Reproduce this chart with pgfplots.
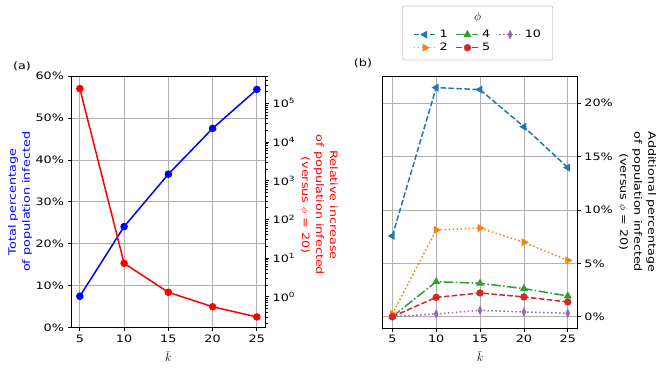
\documentclass[border=0pt]{standalone}
\usepackage{pgfplots}
\pgfplotsset{compat=1.18}
\usepackage{fontspec}
\setmainfont{DejaVu Sans}[FakeStretch=1.25]

\definecolor{c0}{HTML}{1F77B4}
\definecolor{c1}{HTML}{FF7F0E}
\definecolor{c2}{HTML}{2CA02C}
\definecolor{c3}{HTML}{D62728}
\definecolor{c4}{HTML}{9467BD}
\definecolor{gridgray}{HTML}{B0B0B0}
\definecolor{legframe}{HTML}{CCCCCC}

\pgfplotsset{
  base/.style={scale only axis, anchor=south west, width=194.7pt, height=251.7pt,
    tick align=outside, major tick length=3.5pt, minor tick length=2pt,
    tick style={black, line width=0.8pt}, axis line style={line width=0.8pt},
    tick label style={font=\fontsize{10.2}{12}\selectfont},
    label style={font=\fontsize{10.2}{14}\selectfont, align=center},
    /pgf/number format/assume math mode=true,
    grid style={gridgray, line width=0.8pt},
    xtick={5,10,15,20,25}, xmin=4, xmax=26,
  },
  klabel/.style={xlabel={$\bar{k}$},
    xlabel style={at={(axis description cs:0.5,-0.114)}, anchor=center,
      inner sep=0pt, font=\fontsize{12.5}{14}\selectfont}},
  dashedmpl/.style={dash pattern=on 5.55pt off 2.4pt},
  dottedmpl/.style={dash pattern=on 1.5pt off 2.475pt},
  dashdotmpl/.style={dash pattern=on 9.6pt off 2.4pt on 1.5pt off 2.4pt},
}

\begin{document}
\begin{tikzpicture}
\path[use as bounding box] (0,0) rectangle (664pt,370pt);

% legend frame and title for panel (b)
\draw[legframe, line width=0.8pt, fill=white, rounded corners=2pt]
  (402.7pt,310pt) rectangle (552.7pt,364pt);
\node[font=\fontsize{13}{14}\selectfont] at (477.7pt,352.5pt) {$\phi$};

\node[font=\fontsize{10.2}{12}\selectfont] at (22pt,304pt) {(a)};
\node[font=\fontsize{10.2}{12}\selectfont] at (363pt,307pt) {(b)};

% panel (a), left axis
\begin{axis}[base, klabel, at={(71pt,42.3pt)},
  ymin=0, ymax=60, ytick={0,10,20,30,40,50,60},
  yticklabels={0\%,10\%,20\%,30\%,40\%,50\%,60\%},
  ytick pos=left, xtick pos=bottom, grid=major,
  ylabel={Total percentage\\of population infected},
  ylabel style={blue, at={(axis description cs:-0.262,0.5)}, anchor=center}]
\addplot[blue, line width=1.5pt, mark=*, mark size=3pt]
  coordinates {(5,7.5) (10,24.1) (15,36.6) (20,47.5) (25,56.8)};
\end{axis}

% panel (a), right log axis
\begin{axis}[base, at={(71pt,42.3pt)}, axis x line=none,
  ymode=log, ymin=0.158, ymax=5.07e5,
  ytick={1,10,100,1000,10000,100000},
  yticklabels={10\textsuperscript{0},10\textsuperscript{1},10\textsuperscript{2},
    10\textsuperscript{3},10\textsuperscript{4},10\textsuperscript{5}},
  minor ytick={0.2,0.3,0.4,0.5,0.6,0.7,0.8,0.9,2,3,4,5,6,7,8,9,
    20,30,40,50,60,70,80,90,200,300,400,500,600,700,800,900,
    2000,3000,4000,5000,6000,7000,8000,9000,
    20000,30000,40000,50000,60000,70000,80000,90000,
    200000,300000,400000,500000},
  minor tick style={line width=0.6pt},
  ytick pos=right, yticklabel pos=right,
  ylabel={Relative increase\\of population infected\\(versus $\phi$ = 20)},
  ylabel style={red, rotate=180, at={(axis description cs:1.274,0.4875)}, anchor=center}]
\addplot[red, line width=1.5pt, mark=*, mark size=3pt]
  coordinates {(5,240000) (10,7.3) (15,1.3) (20,0.55) (25,0.30)};
\end{axis}

% panel (b)
\begin{axis}[base, klabel, at={(382.7pt,41.7pt)},
  xmin=3.9, xmax=26.1, ymin=-1.09, ymax=22.5,
  ytick={0,5,10,15,20}, yticklabels={0\%,5\%,10\%,15\%,20\%},
  ytick pos=right, yticklabel pos=right, xtick pos=bottom, grid=major,
  ylabel={Additional percentage\\of population infected\\(versus $\phi$ = 20)},
  ylabel style={rotate=180, at={(axis description cs:1.307,0.502)}, anchor=center},
  legend columns=3,
  legend image code/.code={\draw[mark repeat=2, mark phase=2, #1]
    plot coordinates {(0pt,0pt) (11pt,0pt) (22pt,0pt)};},
  legend style={at={(0.49,1.1407)}, anchor=center, draw=none, fill=none,
    font=\fontsize{10.2}{12}\selectfont, row sep=0pt,
    /tikz/every odd column/.append style={column sep=1pt},
    /tikz/every even column/.append style={column sep=6pt}},
  legend cell align=left]
\addplot[c0, line width=1.5pt, dashedmpl, mark=triangle*, mark size=3.2pt,
  mark options={solid, rotate=90}]
  coordinates {(5,7.57) (10,21.47) (15,21.28) (20,17.8) (25,13.97)};
\addlegendentry{1}
\addplot[c2, line width=1.5pt, dashdotmpl, mark=triangle*, mark size=3.2pt,
  mark options={solid}]
  coordinates {(5,0) (10,3.28) (15,3.13) (20,2.63) (25,1.94)};
\addlegendentry{4}
\addplot[c4, line width=1.5pt, dottedmpl, mark=diamond*, mark size=3.2pt,
  mark options={solid, xscale=0.6}]
  coordinates {(5,0) (10,0.25) (15,0.6) (20,0.44) (25,0.32)};
\addlegendentry{10}
\addplot[c1, line width=1.5pt, dottedmpl, mark=triangle*, mark size=3.2pt,
  mark options={solid, rotate=-90}]
  coordinates {(5,0.25) (10,8.13) (15,8.3) (20,6.97) (25,5.28)};
\addlegendentry{2}
\addplot[c3, line width=1.5pt, dashedmpl, mark=*, mark size=2.9pt,
  mark options={solid}]
  coordinates {(5,0) (10,1.81) (15,2.22) (20,1.85) (25,1.38)};
\addlegendentry{5}
\end{axis}
\end{tikzpicture}
\end{document}
